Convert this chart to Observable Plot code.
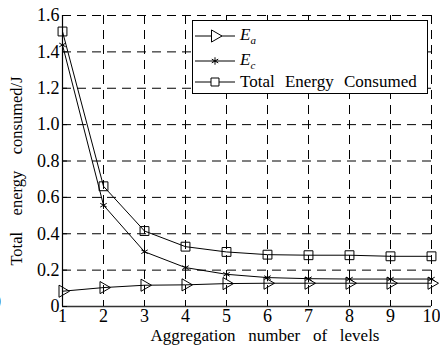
<!DOCTYPE html>
<html>
<head>
<meta charset="utf-8">
<script src="https://cdn.jsdelivr.net/npm/d3@7"></script>
<script src="https://cdn.jsdelivr.net/npm/@observablehq/plot@0.6"></script>
<style>
  html, body { margin: 0; padding: 0; background: #fff; }
  #wrap { position: relative; width: 440px; height: 349px; overflow: hidden; font-family: 'Liberation Serif', 'Times New Roman', serif; }
  #wrap svg text { font-family: 'Liberation Serif', 'Times New Roman', serif !important; white-space: pre; }
  #legend { position: absolute; left: 192px; top: 20px; width: 236px; height: 74px; border: 1px solid #000; background: #fff; box-sizing: border-box; }
  .row { position: absolute; left: 0; height: 20px; display: flex; align-items: center; }
  .row svg { display: block; }
  .row span { font-size: 17px; margin-left: 3px; word-spacing: 6px; font-family: 'Liberation Serif', 'Times New Roman', serif; }
  #stray { position: absolute; left: -8px; top: 292px; font-size: 18px; color: #000; }
</style>
</head>
<body>
<div id="wrap"></div>
<script>
const levels = [1, 2, 3, 4, 5, 6, 7, 8, 9, 10];
const Ea = [0.084, 0.104, 0.117, 0.119, 0.126, 0.128, 0.128, 0.128, 0.128, 0.128];
const Ec = [1.438, 0.557, 0.301, 0.214, 0.177, 0.159, 0.153, 0.151, 0.151, 0.151];
const Total = [1.512, 0.661, 0.415, 0.329, 0.300, 0.285, 0.282, 0.282, 0.276, 0.276];
const yTicks = [0, 0.2, 0.4, 0.6, 0.8, 1.0, 1.2, 1.4, 1.6];
const xTicks = levels;
const seriesNames = ["E_a", "E_c", "Total Energy Consumed"];
const xLabel = "Aggregation   number   of   levels";
const yLabel = "Total    energy    consumed/J";

const rows = (vals) => levels.map((x, i) => ({x, y: vals[i]}));
const dA = rows(Ea), dC = rows(Ec), dT = rows(Total);

const font = "'Liberation Serif', 'Times New Roman', serif";

const chart = Plot.plot({
  width: 440,
  height: 349,
  marginLeft: 62,
  marginRight: 9,
  marginTop: 15,
  marginBottom: 43,
  style: { fontFamily: font, fontSize: "18px", background: "#fff", color: "#000" },
  x: { domain: [1, 10] },
  y: { domain: [0, 1.6] },
  marks: [
    Plot.gridY(yTicks.filter(d => d > 0), { stroke: "#000", strokeOpacity: 1, strokeDasharray: "9,6", strokeWidth: 1 }),
    Plot.gridX(xTicks.filter(d => d > 1), { stroke: "#000", strokeOpacity: 1, strokeDasharray: "9,6", strokeWidth: 1 }),
    Plot.ruleY([0], { stroke: "#333", strokeWidth: 1.5 }),
    Plot.ruleX([1], { stroke: "#000", strokeWidth: 1.2 }),
    Plot.axisY({ ticks: yTicks, tickSize: -5, tickPadding: 8, tickFormat: d => d === 0 ? "0" : d.toFixed(1), label: null, fontSize: 18 }),
    Plot.axisX({ ticks: xTicks, tickSize: -5, tickPadding: 8, tickFormat: d => String(d), label: null, fontSize: 18 }),
    Plot.text([yLabel], { text: d => d, frameAnchor: "left", textAnchor: "middle", rotate: -90, dx: -46, dy: 10, fontSize: 16.5 }),
    Plot.text([xLabel], { text: d => d, frameAnchor: "bottom", dx: 18, dy: 34, fontSize: 17 }),
    Plot.line(dT, { x: "x", y: "y", stroke: "#000", strokeWidth: 1 }),
    Plot.line(dC, { x: "x", y: "y", stroke: "#000", strokeWidth: 1 }),
    Plot.line(dA, { x: "x", y: "y", stroke: "#000", strokeWidth: 1 }),
    Plot.dot(dT, { x: "x", y: "y", symbol: "square", r: 5, stroke: "#000", fill: "none", strokeWidth: 1 }),
    Plot.dot(dC, { x: "x", y: "y", symbol: "asterisk", r: 3.5, stroke: "#000", fill: "none", strokeWidth: 1 }),
    Plot.dot(dA, { x: "x", y: "y", symbol: "triangle", rotate: 90, r: 4.5, stroke: "#000", fill: "none", strokeWidth: 1 })
  ]
});

const wrap = document.getElementById("wrap");
wrap.appendChild(chart);

// legend
const legend = document.createElement("div");
legend.id = "legend";
wrap.appendChild(legend);
const syms = [d3.symbolTriangle, d3.symbolAsterisk, d3.symbolSquare];
const rots = [90, 0, 0];
const sizes = [4.5, 3.5, 4.5];
const tops = [5, 30, 51];
seriesNames.forEach((name, i) => {
  const row = document.createElement("div");
  row.className = "row";
  row.style.top = tops[i] + "px";
  const svg = d3.create("svg").attr("width", 44).attr("height", 20);
  svg.append("line").attr("x1", 2).attr("x2", 42).attr("y1", 10).attr("y2", 10).attr("stroke", "#000");
  svg.append("path").attr("d", d3.symbol(syms[i], sizes[i] * sizes[i] * Math.PI)())
    .attr("transform", `translate(22,10) rotate(${rots[i]})`)
    .attr("fill", i === 1 ? "none" : "#fff").attr("stroke", "#000");
  row.appendChild(svg.node());
  const span = document.createElement("span");
  if (name.includes("_")) {
    const [a, b] = name.split("_");
    span.innerHTML = `<i>${a}</i><sub style="font-size:11px"><i>${b}</i></sub>`;
  } else {
    span.textContent = name;
  }
  row.appendChild(span);
  legend.appendChild(row);
});

const stray = document.createElement("div");
stray.id = "stray";
stray.textContent = "0";
wrap.appendChild(stray);
</script>
</body>
</html>
